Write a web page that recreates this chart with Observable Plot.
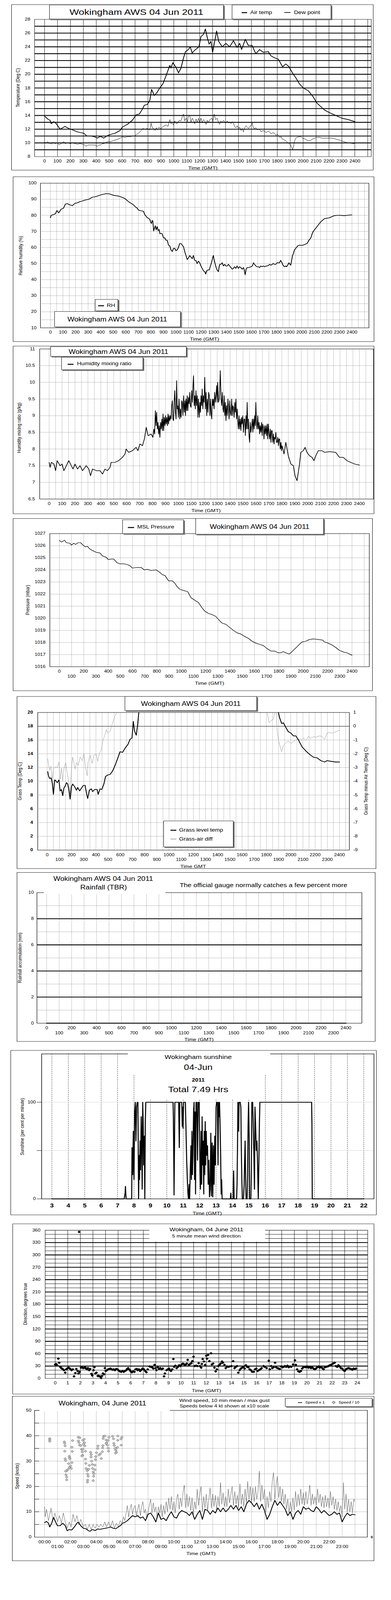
<!DOCTYPE html>
<html><head><meta charset="utf-8">
<script src="https://cdn.jsdelivr.net/npm/d3@7"></script>
<script src="https://cdn.jsdelivr.net/npm/@observablehq/plot@0.6"></script>
<style>
html,body{margin:0;padding:0;width:1000px;overflow:hidden;background:#fff;}
#root{position:relative;width:1000px;height:5000px;overflow:hidden;font-family:"Liberation Sans",Arial,Helvetica,sans-serif;color:#000;background:#fff;transform-origin:0 0;}
.t{position:absolute;white-space:nowrap;line-height:1;transform:translate(-50%,-50%);}
.tl{position:absolute;white-space:nowrap;line-height:1;transform:translate(0,-50%);}
.rot{position:absolute;white-space:nowrap;line-height:1;transform:translate(-50%,-50%) rotate(-90deg);}
.box{position:absolute;background:#fff;border:1px solid #000;box-shadow:3px 3px 0 #777;box-sizing:border-box;}
.frame{position:absolute;border:1.5px solid #000;box-sizing:border-box;}
.white{position:absolute;background:#fff;}
.blk{position:absolute;}
</style></head><body><div id="root"></div>
<script>
// ---------------- DATA ----------------
const hhmmTicks = [0,100,200,300,400,500,600,700,800,900,1000,1100,1200,1300,1400,1500,1600,1700,1800,1900,2000,2100,2200,2300,2400];
const hhmmEven = [0,200,400,600,800,1000,1200,1400,1600,1800,2000,2200,2400];
const hhmmOdd = [100,300,500,700,900,1100,1300,1500,1700,1900,2100,2300];
const tempTicks = [8,10,12,14,16,18,20,22,24,26,28];
const rhTicks = [10,20,30,40,50,60,70,80,90,100];
const mixTicks = [6.5,7,7.5,8,8.5,9,9.5,10,10.5,11];
const presTicks = [1016,1017,1018,1019,1020,1021,1022,1023,1024,1025,1026,1027];
const grassTicks = [0,2,4,6,8,10,12,14,16,18,20];
const diffTicks = [-9,-8,-7,-6,-5,-4,-3,-2,-1,0,1];
const rainTicks = [0,2,4,6,8,10];
const sunHourTicks = [3,4,5,6,7,8,9,10,11,12,13,14,15,16,17,18,19,20,21,22];
const sunTicks = [0,50,100];
const dirTicks = [0,30,60,90,120,150,180,210,240,270,300,330,360];
const dirHourTicks = [0,1,2,3,4,5,6,7,8,9,10,11,12,13,14,15,16,17,18,19,20,21,22,23,24];
const speedTicks = [0,10,20,30,40,50];
const windEven = [0,2,4,6,8,10,12,14,16,18,20,22];
const windOdd = [1,3,5,7,9,11,13,15,17,19,21,23];

const airTemp = [[0,13.9],[23,13.5],[42,13.3],[52,12.8],[71,13.1],[91,12.8],[120,12.0],[140,12.2],[158,12.4],[187,12.1],[216,11.9],[255,11.6],[280,11.5],[303,11.4],[328,11.0],[361,11.0],[385,10.9],[409,10.7],[425,10.9],[438,10.9],[457,10.7],[480,11.0],[505,11.2],[544,11.4],[583,11.8],[602,12.3],[641,12.7],[679,13.3],[698,13.8],[708,14.1],[733,14.2],[756,14.9],[772,15.5],[795,15.6],[814,16.2],[828,17.8],[849,16.9],[868,17.3],[891,18.0],[915,18.6],[940,19.8],[969,21.3],[978,20.9],[992,21.7],[1017,21.0],[1036,20.2],[1055,20.9],[1075,22.4],[1090,23.3],[1113,23.6],[1127,24.0],[1142,23.1],[1161,23.5],[1181,23.8],[1194,24.0],[1210,25.5],[1229,25.8],[1244,26.6],[1258,25.4],[1273,24.4],[1287,24.8],[1300,23.2],[1316,24.8],[1331,26.3],[1347,24.8],[1374,24.0],[1403,24.5],[1432,24.0],[1461,24.9],[1489,23.9],[1509,24.5],[1524,23.6],[1553,25.1],[1576,24.2],[1605,24.2],[1634,23.0],[1663,23.6],[1692,23.2],[1731,23.3],[1750,22.7],[1779,22.4],[1808,22.2],[1841,21.1],[1866,21.5],[1891,21.1],[1914,20.3],[1943,19.5],[1972,18.6],[2001,18.0],[2040,17.6],[2078,16.7],[2107,15.8],[2136,15.3],[2165,14.8],[2204,14.4],[2252,14.0],[2300,13.6],[2348,13.4],[2400,13.1]];

const dewPoint = [[0,10.1],[15,10.0],[25,10.2],[35,9.9],[42,10.0],[52,9.8],[65,10.1],[80,9.9],[100,10.0],[112,9.7],[120,9.8],[135,10.0],[149,10.2],[160,9.9],[178,10.0],[200,9.9],[215,10.0],[235,9.9],[255,9.8],[275,9.9],[293,9.8],[310,9.7],[322,9.5],[335,9.7],[351,9.7],[370,9.7],[390,9.7],[409,9.5],[420,9.7],[435,9.7],[448,9.9],[460,9.9],[477,10.1],[495,10.2],[515,10.2],[540,10.4],[563,10.5],[585,10.7],[602,10.9],[620,10.8],[640,10.9],[660,10.9],[680,11.0],[698,11.0],[708,11.2],[718,11.3],[732,11.5],[747,11.8],[760,12.1],[776,12.0],[795,12.1],[814,11.9],[824,12.9],[833,12.2],[843,12.1],[855,11.8],[865,12.2],[872,11.9],[885,12.3],[898,12.0],[911,12.3],[925,12.5],[940,12.6],[955,12.4],[969,13.4],[978,12.8],[988,12.9],[998,12.6],[1007,13.2],[1018,12.8],[1030,12.9],[1042,13.3],[1055,13.2],[1065,13.8],[1075,14.2],[1084,13.2],[1094,13.6],[1105,13.1],[1113,13.9],[1123,14.0],[1133,13.0],[1142,13.6],[1152,13.3],[1162,12.8],[1172,13.5],[1181,13.0],[1191,13.6],[1200,12.9],[1210,13.6],[1220,12.9],[1230,13.4],[1239,13.2],[1249,12.7],[1258,13.3],[1268,13.0],[1280,13.4],[1293,13.6],[1302,13.1],[1312,14.2],[1323,13.4],[1335,13.6],[1345,13.0],[1354,12.7],[1364,13.2],[1374,13.0],[1384,13.3],[1393,13.1],[1403,12.9],[1413,13.2],[1423,12.9],[1432,13.0],[1442,12.8],[1452,13.1],[1461,12.9],[1470,12.4],[1480,12.2],[1490,12.5],[1500,12.1],[1509,12.3],[1520,11.8],[1530,12.1],[1538,11.6],[1548,12.2],[1558,12.5],[1567,12.3],[1578,12.1],[1588,12.4],[1596,12.5],[1606,12.9],[1615,12.2],[1625,12.1],[1635,12.2],[1645,11.9],[1655,12.0],[1663,12.0],[1675,11.6],[1688,11.8],[1702,11.7],[1715,11.5],[1728,11.7],[1740,11.6],[1752,11.3],[1765,11.5],[1779,11.4],[1790,11.1],[1800,11.3],[1808,11.1],[1820,10.8],[1830,10.9],[1837,10.6],[1850,10.5],[1866,10.3],[1878,10.1],[1891,9.9],[1904,9.7],[1912,9.3],[1918,9.0],[1925,9.4],[1933,10.2],[1943,10.7],[1953,10.8],[1968,10.9],[1982,10.9],[1995,10.7],[2011,10.6],[2030,10.4],[2049,10.3],[2068,10.5],[2088,10.7],[2107,10.8],[2127,10.8],[2146,10.7],[2165,10.7],[2195,10.7],[2223,10.7],[2245,10.6],[2262,10.5],[2285,10.4],[2310,10.2],[2330,10.1],[2345,10.0],[2370,9.95],[2396,9.9]];

const relHum = [[0,78.5],[6,80],[26,80.5],[40,81],[52,83],[66,81.5],[85,83.8],[105,84.5],[119,87],[135,87.3],[155,86.5],[175,86],[195,87.5],[215,87.8],[234,88.5],[254,88.9],[274,89.5],[294,89.8],[314,90.3],[334,91.3],[354,91.5],[374,92],[394,92.5],[413,93],[428,93.2],[443,93.5],[458,93.4],[473,93.3],[488,92.8],[503,92.5],[522,92.2],[542,92],[567,91.3],[592,90.5],[607,89.5],[622,88.5],[642,87.5],[662,86.5],[677,85.2],[691,84.5],[701,83.3],[711,83],[726,82.8],[741,82.5],[751,80.5],[761,79.5],[771,78.5],[781,78.2],[791,77.5],[799,75.5],[805,75],[810,76.8],[815,76.5],[822,70.3],[828,72],[835,73.5],[842,71],[850,73],[858,70.5],[865,71.2],[872,68.5],[880,68.8],[890,68.5],[900,66],[910,66],[920,64.5],[930,64.5],[940,61.5],[950,61],[960,58.5],[970,57.5],[980,59.5],[989,59.5],[999,58],[1009,58.5],[1019,60],[1029,62.5],[1039,62.5],[1049,61.5],[1059,60.5],[1069,57.5],[1079,55],[1089,52.5],[1099,53.5],[1109,55],[1119,54],[1129,53],[1138,55],[1148,52],[1158,52],[1168,50],[1178,51.5],[1188,50.5],[1198,48.5],[1208,47],[1218,45.5],[1228,45],[1236,43.5],[1244,45.5],[1254,46],[1264,46],[1274,48.5],[1284,51],[1291,53.5],[1297,55],[1304,52],[1311,50],[1319,47.5],[1327,46],[1337,45],[1342,47.5],[1347,49.5],[1357,49.5],[1367,50.5],[1377,48.5],[1387,49.5],[1397,48.5],[1407,48.5],[1417,49.5],[1427,48.5],[1437,47.5],[1447,46.5],[1456,47],[1466,48],[1476,47],[1486,48.5],[1496,47],[1506,48],[1516,47.5],[1526,46.5],[1536,47.5],[1543,46],[1550,43],[1558,46.5],[1566,47.5],[1578,47.5],[1595,48],[1608,48.5],[1616,50.5],[1625,49.5],[1635,48.5],[1645,48],[1655,48],[1665,47.5],[1675,48.5],[1685,48],[1695,48.5],[1705,48],[1715,48.5],[1725,48.5],[1735,48.8],[1745,49.5],[1755,49],[1764,49.5],[1774,50],[1784,49.5],[1794,49.5],[1804,50.5],[1814,50.5],[1824,50.5],[1832,52],[1840,51],[1848,49.5],[1856,48.5],[1864,48],[1872,48.5],[1880,48],[1888,49],[1899,50.5],[1906,49.5],[1913,49],[1920,52],[1927,55],[1933,56],[1943,58.5],[1953,59.5],[1968,61],[1983,61.5],[1998,61.3],[2013,61.5],[2028,62],[2043,62.5],[2058,64.5],[2073,66],[2083,68.5],[2092,70],[2107,71.5],[2122,73],[2137,74.5],[2152,76],[2167,77],[2182,78],[2201,78.2],[2221,78.5],[2241,79.2],[2261,79.8],[2281,80],[2301,80],[2321,79.9],[2341,79.8],[2361,80],[2381,80.2],[2400,80.3]];

const mixRatio = [[0,7.6],[8,7.45],[17,7.6],[37,7.55],[50,7.35],[62,7.65],[85,7.5],[100,7.55],[114,7.35],[133,7.5],[152,7.65],[172,7.5],[185,7.4],[200,7.55],[220,7.4],[239,7.5],[259,7.35],[287,7.5],[307,7.4],[320,7.2],[336,7.4],[365,7.35],[394,7.35],[413,7.25],[432,7.4],[451,7.35],[471,7.45],[480,7.6],[509,7.6],[538,7.65],[567,7.75],[587,7.85],[596,8.0],[615,7.9],[644,7.95],[673,8.05],[687,7.95],[702,8.15],[722,8.1],[737,8.3],[751,8.65],[766,8.4],[789,8.45],[803,8.35],[810,8.6],[816,8.45],[822,9.15],[827,8.7],[832,9.1],[837,8.6],[842,8.8],[847,8.45],[852,8.7],[857,8.35],[862,8.8],[867,8.6],[872,8.9],[877,8.55],[881,9.05],[886,8.55],[891,8.95],[896,8.7],[900,9.0],[905,8.75],[910,8.95],[915,8.7],[920,9.05],[924,8.75],[929,9.0],[934,8.85],[939,9.0],[943,8.9],[948,9.3],[953,9.45],[958,8.9],[963,8.85],[967,9.4],[972,9.75],[977,9.1],[982,8.9],[986,10.05],[991,9.2],[995,9.3],[1000,8.95],[1005,9.5],[1011,8.9],[1016,9.2],[1021,8.95],[1026,9.45],[1030,9.4],[1035,9.0],[1040,9.6],[1046,9.1],[1051,9.45],[1055,9.0],[1059,9.5],[1064,9.15],[1068,9.6],[1073,9.15],[1078,9.55],[1083,9.35],[1088,9.7],[1093,9.3],[1098,9.25],[1103,9.75],[1108,9.4],[1113,9.9],[1117,10.2],[1122,9.3],[1127,9.6],[1131,9.2],[1136,9.75],[1141,9.3],[1146,9.6],[1151,8.95],[1156,9.5],[1162,8.95],[1167,9.4],[1171,9.1],[1175,9.6],[1180,9.3],[1184,9.8],[1189,9.2],[1194,9.6],[1199,9.4],[1204,10.15],[1209,9.2],[1214,9.7],[1219,9.0],[1224,9.5],[1229,9.1],[1234,9.7],[1239,9.6],[1244,9.0],[1249,9.5],[1253,9.1],[1258,8.9],[1263,9.5],[1267,9.3],[1271,9.5],[1276,9.2],[1281,9.7],[1286,9.4],[1291,9.6],[1296,9.9],[1300,9.4],[1304,10.0],[1310,9.4],[1316,9.5],[1320,9.8],[1324,10.35],[1330,9.5],[1335,9.3],[1340,9.7],[1345,9.2],[1349,9.1],[1354,9.6],[1359,9.0],[1364,9.4],[1368,8.85],[1373,9.3],[1378,9.0],[1383,9.5],[1387,9.3],[1392,8.9],[1397,9.45],[1402,9.1],[1407,9.0],[1412,9.5],[1417,9.0],[1421,9.3],[1426,9.25],[1431,8.95],[1436,9.4],[1441,9.1],[1445,9.5],[1450,8.9],[1455,9.2],[1459,8.85],[1464,8.6],[1469,9.0],[1474,8.6],[1479,8.9],[1484,8.55],[1488,8.95],[1493,8.75],[1498,9.0],[1503,8.5],[1508,8.9],[1513,8.9],[1518,8.4],[1523,9.0],[1527,8.6],[1532,9.4],[1537,8.6],[1541,8.9],[1546,8.4],[1551,8.2],[1556,8.8],[1561,8.5],[1567,8.7],[1572,8.9],[1576,8.5],[1581,8.9],[1586,8.6],[1590,9.0],[1595,8.7],[1599,9.4],[1604,8.8],[1609,8.6],[1614,9.0],[1619,8.6],[1624,8.8],[1628,8.45],[1633,8.7],[1638,8.5],[1643,8.8],[1648,8.4],[1652,8.75],[1657,8.65],[1662,8.3],[1667,8.7],[1672,8.45],[1677,8.7],[1682,8.4],[1687,8.75],[1691,8.3],[1696,8.75],[1701,8.45],[1706,8.3],[1711,8.6],[1716,8.2],[1720,8.55],[1725,8.55],[1730,8.2],[1735,8.45],[1740,8.15],[1744,8.35],[1749,8.3],[1754,8.5],[1759,8.2],[1764,8.2],[1769,8.35],[1774,8.1],[1778,8.3],[1783,8.3],[1788,8.0],[1793,8.2],[1797,7.95],[1802,8.1],[1817,7.85],[1831,8.2],[1850,7.8],[1870,7.55],[1889,7.5],[1902,7.2],[1918,7.05],[1937,7.55],[1947,7.9],[1966,7.95],[1980,8.05],[1995,7.9],[2014,7.8],[2034,7.75],[2049,7.65],[2063,7.8],[2082,7.95],[2111,7.95],[2130,7.9],[2169,7.92],[2217,7.9],[2246,7.75],[2275,7.75],[2304,7.65],[2333,7.6],[2362,7.55],[2400,7.52]];

const mslPressure = [[0,1026.45],[16,1026.3],[43,1026.45],[57,1026.25],[88,1026.2],[98,1026.05],[119,1026.2],[133,1026.1],[153,1026.25],[174,1026.25],[194,1026.05],[215,1025.9],[231,1025.95],[247,1025.75],[272,1025.6],[303,1025.45],[333,1025.4],[354,1025.15],[384,1025.05],[401,1024.85],[425,1024.9],[446,1024.9],[472,1024.6],[497,1024.5],[528,1024.5],[554,1024.45],[579,1024.35],[599,1024.15],[630,1024.2],[671,1024.2],[697,1024.0],[722,1024.05],[753,1023.95],[794,1024.0],[824,1023.8],[845,1023.6],[865,1023.55],[896,1023.1],[926,1023.1],[947,1022.9],[967,1022.6],[988,1022.4],[1018,1022.3],[1053,1022.2],[1080,1021.7],[1110,1021.5],[1141,1021.3],[1168,1020.9],[1192,1020.6],[1223,1020.4],[1254,1020.3],[1284,1020.15],[1305,1019.9],[1335,1019.6],[1366,1019.5],[1397,1019.25],[1427,1019.0],[1458,1018.8],[1489,1018.7],[1519,1018.5],[1550,1018.35],[1581,1018.1],[1611,1017.95],[1642,1017.85],[1673,1017.75],[1703,1017.5],[1734,1017.3],[1765,1017.3],[1796,1017.15],[1816,1017.15],[1837,1017.25],[1857,1017.15],[1884,1017.05],[1898,1017.15],[1929,1017.45],[1959,1017.75],[1990,1018.05],[2020,1018.1],[2051,1018.25],[2082,1018.3],[2122,1018.25],[2159,1018.2],[2174,1018.05],[2204,1017.95],[2235,1017.8],[2266,1017.6],[2297,1017.35],[2333,1017.2],[2358,1017.15],[2400,1016.95]];

const grassTemp = [[4,11.4],[10,10.8],[20,10.4],[31,10.5],[41,9.8],[51,8.1],[61,10.2],[70,10.1],[82,9.8],[96,10.2],[106,8.6],[117,8.8],[127,7.9],[137,9.0],[147,9.3],[158,9.8],[168,9.6],[178,8.7],[188,7.4],[199,9.2],[209,9.6],[225,9.2],[240,8.7],[250,9.1],[266,8.6],[281,9.0],[297,9.4],[311,9.4],[322,8.3],[332,7.5],[346,8.7],[362,8.9],[373,8.5],[389,8.8],[410,8.8],[418,8.1],[434,8.9],[448,8.8],[465,9.6],[479,10.7],[496,10.9],[516,11.0],[537,11.5],[557,12.3],[578,13.3],[598,14.3],[618,14.2],[639,14.8],[664,15.4],[680,16.1],[696,16.3],[707,18.7],[717,17.3],[731,16.7],[741,18.0],[752,20.0],[790,22.5],[1860,22.5],[1898,20.0],[1909,19.2],[1925,18.4],[1939,18.5],[1960,17.8],[1980,17.2],[2001,17.0],[2022,16.6],[2042,16.6],[2063,16.0],[2093,15.0],[2124,14.4],[2155,13.9],[2186,13.5],[2216,13.4],[2247,13.0],[2278,12.8],[2298,13.0],[2329,12.9],[2370,12.8],[2400,12.8]];

const grassAirDiff = [[4,-2.35],[10,-2.7],[20,-3.2],[31,-2.9],[41,-4.0],[51,-3.1],[66,-2.95],[82,-3.0],[96,-2.6],[106,-3.85],[117,-3.05],[127,-4.0],[137,-3.05],[152,-2.65],[164,-3.4],[178,-4.1],[188,-5.0],[199,-3.0],[209,-2.25],[229,-3.1],[240,-2.65],[254,-2.85],[270,-2.25],[287,-2.5],[301,-2.0],[315,-3.0],[328,-3.6],[336,-2.6],[352,-2.1],[369,-2.7],[383,-2.1],[403,-2.05],[414,-2.55],[428,-2.0],[444,-1.7],[459,-1.0],[475,-0.6],[485,-0.25],[496,-0.5],[516,-0.35],[537,0.25],[557,0.75],[573,1.0],[600,1.6],[1780,1.6],[1806,1.0],[1823,0.25],[1837,0.4],[1857,0.5],[1868,1.0],[1873,1.3],[1880,1.0],[1888,-0.25],[1898,-1.0],[1909,-1.35],[1925,-1.85],[1939,-1.4],[1960,-1.2],[1980,-1.05],[2001,-1.25],[2022,-1.1],[2042,-1.0],[2063,-0.95],[2083,-1.0],[2104,-0.85],[2124,-1.05],[2145,-0.75],[2165,-0.9],[2186,-0.75],[2206,-0.8],[2237,-0.7],[2257,-0.75],[2278,-0.95],[2298,-0.5],[2319,-0.45],[2339,-0.5],[2370,-0.4],[2400,-0.3]];

const rainTime = [0, 2400];
const rainAccum = [0, 0];

const sunshine = [[3,0],[7.40,0],[7.46,6],[7.48,13],[7.50,6],[7.52,0],[7.86,0],[7.88,53],[7.92,25],[7.96,70],[8.0,20],[8.04,90],[8.08,100],[8.12,60],[8.16,95],[8.2,100],[8.24,100],[8.28,0],[8.31,45],[8.34,20],[8.37,60],[8.40,30],[8.44,85],[8.47,55],[8.50,10],[8.53,100],[8.56,80],[8.59,35],[8.63,65],[8.66,0],[8.69,80],[8.72,100],[10.38,100],[10.40,83],[10.43,30],[10.44,4],[10.47,60],[10.49,100],[10.72,100],[10.74,78],[10.76,53],[10.79,100],[10.91,100],[10.94,75],[10.97,95],[10.99,73],[11.02,100],[11.13,100],[11.17,70],[11.21,40],[11.25,20],[11.29,5],[11.32,0],[11.36,15],[11.39,0],[11.43,30],[11.47,55],[11.50,20],[11.53,70],[11.56,25],[11.59,45],[11.63,90],[11.66,100],[11.69,20],[11.72,90],[11.75,5],[11.78,100],[11.83,100],[11.87,40],[11.91,100],[11.97,100],[11.99,75],[12.02,30],[12.05,10],[12.09,70],[12.12,15],[12.15,85],[12.18,35],[12.21,60],[12.25,5],[12.28,70],[12.31,25],[12.34,80],[12.37,35],[12.40,70],[12.44,45],[12.48,55],[12.52,15],[12.56,40],[12.60,2],[12.64,10],[12.68,68],[12.72,3],[12.76,58],[12.80,2],[12.84,55],[12.88,15],[12.92,65],[12.96,35],[13.0,95],[13.04,100],[13.08,100],[13.12,35],[13.15,100],[13.18,85],[13.21,100],[13.24,80],[13.28,45],[13.31,5],[13.34,20],[13.37,0],[13.87,0],[13.90,6],[13.92,0],[14.04,0],[14.07,29],[14.10,0],[14.25,0],[14.28,15],[14.31,62],[14.33,100],[14.36,85],[14.38,70],[14.40,100],[14.47,100],[14.51,95],[14.54,50],[14.57,20],[14.60,0],[14.67,0],[14.71,15],[14.74,40],[14.77,60],[14.80,20],[14.83,0],[14.89,0],[14.92,25],[14.95,75],[14.98,100],[15.02,60],[15.04,0],[15.12,0],[15.15,30],[15.18,100],[15.23,100],[15.26,80],[15.30,50],[15.34,10],[15.37,95],[15.41,75],[15.45,50],[15.49,60],[15.53,35],[15.57,0],[15.61,40],[15.64,78],[15.67,100],[18.82,100],[18.84,78],[18.86,0],[22,0]];

const windDir = [[0.0,34],[0.08,35],[0.15,32],[0.25,48],[0.32,38],[0.4,28],[0.48,25],[0.55,24],[0.62,22],[0.7,20],[0.8,14],[0.88,22],[0.95,24],[1.05,26],[1.12,25],[1.2,23],[1.3,20],[1.4,22],[1.5,5],[1.6,13],[1.68,23],[1.78,18],[1.85,12],[1.9,356],[1.95,16],[2.05,26],[2.12,27],[2.22,25],[2.3,26],[2.38,27],[2.45,24],[2.52,22],[2.6,25],[2.7,20],[2.78,23],[2.88,11],[2.95,7],[3.05,20],[3.12,27],[3.2,12],[3.28,14],[3.38,6],[3.45,6],[3.55,5],[3.65,1],[3.72,6],[3.8,12],[3.88,10],[3.95,25],[4.02,18],[4.12,20],[4.2,22],[4.3,23],[4.4,24],[4.48,22],[4.58,21],[4.65,22],[4.75,20],[4.85,23],[4.95,22],[5.05,19],[5.15,17],[5.25,16],[5.35,18],[5.45,16],[5.55,18],[5.65,20],[5.72,23],[5.8,25],[5.9,21],[6.0,17],[6.1,15],[6.2,17],[6.3,16],[6.38,22],[6.48,23],[6.55,20],[6.65,22],[6.75,18],[6.85,21],[6.95,24],[7.05,22],[7.15,18],[7.25,15],[7.35,22],[7.5,29],[7.6,28],[7.7,27],[7.8,24],[7.9,33],[7.97,25],[8.05,20],[8.15,27],[8.25,23],[8.35,25],[8.45,22],[8.55,24],[8.65,5],[8.72,12],[8.85,20],[8.95,22],[9.05,24],[9.12,20],[9.2,18],[9.3,22],[9.39,47],[9.45,28],[9.55,31],[9.65,25],[9.75,28],[9.85,32],[9.95,30],[10.05,34],[10.15,36],[10.25,34],[10.35,33],[10.45,36],[10.53,45],[10.62,33],[10.72,35],[10.82,37],[10.9,42],[10.99,53],[11.08,30],[11.2,31],[11.3,30],[11.4,37],[11.5,30],[11.6,26],[11.65,35],[11.72,47],[11.82,41],[11.92,33],[12.0,55],[12.07,48],[12.15,57],[12.25,42],[12.38,61],[12.45,34],[12.55,36],[12.65,26],[12.75,17],[12.85,22],[12.95,30],[13.05,33],[13.15,36],[13.25,41],[13.32,38],[13.45,33],[13.55,25],[13.65,29],[13.75,28],[13.85,29],[14.0,30],[14.14,42],[14.25,25],[14.35,28],[14.45,30],[14.55,14],[14.65,20],[14.75,24],[14.85,26],[14.95,28],[15.05,24],[15.15,32],[15.25,28],[15.35,27],[15.45,22],[15.55,20],[15.65,16],[15.78,16],[15.88,22],[15.98,24],[16.08,18],[16.18,20],[16.3,22],[16.4,25],[16.55,30],[16.65,28],[16.8,25],[16.97,43],[17.05,22],[17.15,30],[17.25,25],[17.35,27],[17.47,38],[17.55,27],[17.65,25],[17.75,24],[17.85,23],[17.95,29],[18.05,27],[18.15,28],[18.25,30],[18.35,28],[18.45,31],[18.55,27],[18.65,29],[18.75,28],[18.9,34],[19.05,44],[19.12,33],[19.22,22],[19.32,17],[19.42,16],[19.52,18],[19.62,24],[19.72,27],[19.82,28],[19.92,27],[20.02,29],[20.12,26],[20.22,28],[20.32,25],[20.42,27],[20.52,24],[20.62,22],[20.72,24],[20.82,27],[20.92,29],[21.02,26],[21.12,28],[21.22,25],[21.32,22],[21.42,27],[21.52,28],[21.62,29],[21.72,30],[21.82,32],[21.92,33],[22.02,35],[22.12,37],[22.2,38],[22.3,30],[22.4,28],[22.5,32],[22.6,29],[22.7,25],[22.8,24],[22.9,20],[23.0,18],[23.1,22],[23.2,24],[23.3,25],[23.4,24],[23.5,23],[23.6,21],[23.7,24],[23.8,23],[23.9,24]];

const speedMean = [[0.0,5.7],[0.15,6.2],[0.3,5.5],[0.4,4.0],[0.55,5.5],[0.7,7.8],[0.85,6.0],[1.0,4.5],[1.2,4.5],[1.4,5.5],[1.6,4.5],[1.75,2.5],[1.9,3.0],[2.1,2.8],[2.3,4.0],[2.5,5.5],[2.6,5.9],[2.8,4.5],[3.0,3.5],[3.2,3.3],[3.4,2.5],[3.5,2.3],[3.7,3.0],[3.9,2.6],[4.1,3.2],[4.3,3.1],[4.5,3.3],[4.7,3.5],[4.9,3.7],[5.1,4.0],[5.3,3.5],[5.5,3.3],[5.7,4.0],[5.9,4.7],[6.0,5.4],[6.2,5.8],[6.4,6.5],[6.6,7.5],[6.8,8.5],[7.0,8.0],[7.2,8.5],[7.4,7.5],[7.6,8.0],[7.8,6.5],[8.0,9.0],[8.2,9.5],[8.4,8.0],[8.6,6.0],[8.8,9.5],[9.0,7.0],[9.2,7.5],[9.4,6.5],[9.6,8.5],[9.8,10.0],[10.0,8.0],[10.2,7.5],[10.4,9.5],[10.6,10.5],[10.8,10.0],[11.0,9.5],[11.2,8.5],[11.4,10.0],[11.6,7.0],[11.8,9.0],[12.0,10.5],[12.2,7.0],[12.4,11.0],[12.6,10.5],[12.8,9.0],[13.0,10.5],[13.2,9.5],[13.4,11.5],[13.6,10.0],[13.8,11.5],[14.0,10.0],[14.2,11.0],[14.4,12.5],[14.6,11.0],[14.8,12.5],[15.0,10.5],[15.2,12.0],[15.4,10.0],[15.6,13.0],[15.8,14.5],[16.0,13.5],[16.2,12.0],[16.4,13.5],[16.6,11.0],[16.8,13.0],[17.0,10.5],[17.2,7.0],[17.4,9.0],[17.6,12.0],[17.8,14.5],[18.0,12.5],[18.2,14.0],[18.4,12.5],[18.6,11.0],[18.8,8.5],[19.0,10.0],[19.2,7.0],[19.4,9.5],[19.6,10.5],[19.8,9.0],[20.0,12.0],[20.2,11.0],[20.4,11.5],[20.6,10.5],[20.8,10.0],[21.0,12.0],[21.2,11.0],[21.4,9.5],[21.6,10.5],[21.8,9.5],[22.0,8.5],[22.2,9.0],[22.4,10.0],[22.6,9.0],[22.8,9.5],[23.0,6.0],[23.2,8.0],[23.4,9.5],[23.6,8.5],[23.8,9.0],[24.0,8.8]];

const speedGust = [[0.0,12],[0.05,8],[0.15,11],[0.3,6.5],[0.45,10],[0.5,11.5],[0.65,6.5],[0.8,9.5],[1.0,6],[1.15,8.5],[1.3,5.5],[1.45,9.5],[1.6,6],[1.75,3.5],[1.9,6],[2.05,4],[2.2,9],[2.35,6],[2.5,8.5],[2.65,5],[2.8,7],[3.0,4],[3.15,5],[3.3,3],[3.45,5],[3.6,3],[3.75,5],[3.9,3.5],[4.05,5],[4.2,4],[4.35,5],[4.5,4],[4.65,6],[4.8,4],[4.95,6],[5.1,4],[5.25,6.5],[5.4,3.5],[5.55,5.5],[5.7,4],[5.85,6.5],[6.0,5.5],[6.1,8],[6.2,6.5],[6.3,9.5],[6.4,12.5],[6.5,8],[6.6,11],[6.7,13],[6.8,9],[6.9,11.5],[7.0,12.5],[7.1,8.5],[7.2,11],[7.3,13],[7.4,8.5],[7.5,12],[7.6,14],[7.7,9.5],[7.8,11],[7.9,7.5],[8.0,10],[8.1,12.5],[8.2,15],[8.3,9.5],[8.4,13.5],[8.5,10],[8.6,12],[8.7,7.5],[8.8,12],[8.9,9.5],[9.0,13],[9.1,8],[9.2,12.5],[9.3,9],[9.4,14],[9.5,10],[9.6,15.5],[9.7,11],[9.8,16],[9.9,10.5],[10.0,14],[10.1,9.5],[10.2,15],[10.3,17],[10.4,11],[10.5,15.5],[10.6,12],[10.7,17.5],[10.8,20.5],[10.9,11.5],[11.0,17],[11.1,12],[11.2,16],[11.3,10.5],[11.4,15.5],[11.5,9],[11.6,14],[11.7,11],[11.8,19],[11.9,12.5],[12.0,17],[12.1,20],[12.2,10],[12.3,16],[12.4,11.5],[12.5,17],[12.6,10.5],[12.7,15],[12.8,19.5],[12.9,11.5],[13.0,17],[13.1,12],[13.2,16.5],[13.3,10.5],[13.4,16],[13.5,12],[13.6,21.5],[13.7,13],[13.8,17.5],[13.9,12],[14.0,16],[14.1,12],[14.2,19],[14.3,13.5],[14.4,17],[14.5,20],[14.6,12.5],[14.7,18],[14.8,13],[14.9,16.5],[15.0,11.5],[15.1,21],[15.2,13],[15.3,17],[15.4,12],[15.5,19],[15.6,13.5],[15.7,22],[15.8,15],[15.9,20],[16.0,13.5],[16.1,19.5],[16.2,14],[16.3,20],[16.4,15],[16.5,18],[16.6,26],[16.7,14],[16.8,20.5],[16.9,15],[17.0,19],[17.1,10],[17.2,16],[17.3,11.5],[17.4,18],[17.5,14],[17.6,22],[17.7,25.5],[17.8,15],[17.9,21],[18.0,24],[18.1,15.5],[18.2,20],[18.3,14],[18.4,19],[18.5,13],[18.6,17],[18.7,11],[18.8,15],[18.9,9.5],[19.0,14],[19.1,10],[19.2,15.5],[19.3,10.5],[19.4,18],[19.5,12],[19.6,17],[19.7,12.5],[19.8,19],[19.9,13],[20.0,17.5],[20.1,12.5],[20.2,18],[20.3,13],[20.4,16],[20.5,20.5],[20.6,12.5],[20.7,17],[20.8,13],[20.9,16],[21.0,12.5],[21.1,19],[21.2,13.5],[21.3,17],[21.4,12],[21.5,16],[21.6,11.5],[21.7,16.5],[21.8,12],[21.9,15.5],[22.0,11.5],[22.1,18],[22.2,12.5],[22.3,16],[22.4,11],[22.5,15],[22.6,10.5],[22.7,14],[22.8,10],[22.9,12.5],[23.0,8],[23.1,21.5],[23.2,11],[23.3,17],[23.4,10],[23.5,15],[23.6,10],[23.7,14],[23.8,9.5],[23.9,15],[24.0,14]];

const lowSpeedX10 = [[0.40,38.9],[0.40,38.4],[0.40,37.8],[1.53,37.6],[1.56,37.0],[1.59,36.0],[1.56,33.9],[1.59,30.9],[1.63,30.2],[1.91,31.9],[1.94,31.3],[1.96,30.9],[2.11,29.4],[1.86,29.0],[2.01,28.1],[1.91,27.5],[1.81,26.7],[1.71,26.2],[1.63,26.0],[1.66,24.6],[1.71,23.7],[1.71,22.6],[2.06,27.1],[2.11,35.5],[2.14,33.8],[2.16,38.1],[2.61,39.4],[2.73,39.2],[2.61,38.0],[2.66,37.3],[2.71,36.3],[2.81,36.1],[2.96,38.2],[3.06,38.6],[3.09,37.3],[3.01,36.7],[3.11,36.0],[2.86,34.6],[2.96,34.7],[2.91,33.6],[2.93,32.3],[2.89,32.0],[3.16,33.9],[3.16,30.8],[3.19,29.1],[3.21,27.1],[3.29,26.2],[3.33,24.9],[3.37,24.0],[3.33,22.5],[3.31,21.7],[3.41,26.8],[3.46,28.3],[3.56,33.5],[3.61,32.6],[3.59,31.6],[3.63,30.0],[3.69,28.7],[3.71,27.1],[3.76,25.7],[3.79,24.0],[3.76,22.3],[3.81,25.0],[3.89,28.4],[3.89,26.6],[3.94,30.6],[3.96,31.8],[4.01,33.3],[4.11,35.0],[4.13,36.0],[4.21,32.4],[4.31,32.9],[4.38,31.0],[4.46,33.7],[4.51,36.1],[4.49,35.2],[4.56,39.8],[4.66,39.9],[4.53,38.9],[4.76,38.3],[4.91,38.2],[4.81,37.3],[4.86,36.3],[4.76,36.9],[4.91,35.1],[4.94,33.9],[4.98,39.4],[5.26,39.8],[5.33,38.8],[5.36,37.0],[5.39,36.1],[5.46,35.0],[5.51,34.3],[5.56,33.5],[5.63,35.4],[5.66,39.9],[5.66,38.2],[5.91,38.7],[5.98,39.4],[5.93,36.3],[5.49,33.1]];

// ---------------- HELPERS ----------------
const FONT = '"Liberation Sans", Arial, Helvetica, sans-serif';
const root = document.getElementById("root");
// The photographed viewport may be shorter than 5000px: squeeze the 1000x5000 layout to fit it.
const fitScale = Math.min(1, (window.innerHeight || 5000) / 5000);
root.style.transform = `scale(1, ${fitScale})`;
document.body.style.height = (5000 * fitScale) + "px";
document.documentElement.style.height = (5000 * fitScale) + "px";

function div(cls, x0, y0, x1, y1, css = {}) {
  const d = document.createElement("div");
  d.className = cls;
  Object.assign(d.style, {left: x0 + "px", top: y0 + "px", width: (x1 - x0) + "px", height: (y1 - y0) + "px"}, css);
  root.appendChild(d);
  return d;
}
function txt(x, y, s, size, o = {}) {
  const d = document.createElement("div");
  d.className = o.cls || "t";
  d.textContent = s;
  d.style.left = x + "px"; d.style.top = y + "px"; d.style.fontSize = size + "px";
  if (o.weight) d.style.fontWeight = o.weight;
  if (o.color) d.style.color = o.color;
  root.appendChild(d);
  return d;
}
function bar(x0, x1, y, h, color) { return div("blk", x0, y - h / 2, x1, y + h / 2, {background: color}); }
const X = d => d[0], Y = d => d[1];
const fmt = d => String(d);
function yAx(ticks, pad, o = {}) { return Plot.axisY(ticks, {tickSize: 0, tickPadding: pad, tickFormat: fmt, label: null, fontSize: 12.5, ...o}); }
function xAx(ticks, pad, o = {}) { return Plot.axisX(ticks, {tickSize: 0, tickPadding: pad, tickFormat: fmt, label: null, fontSize: 12.5, ...o}); }
const dotted = {stroke: "#000", strokeWidth: 1, strokeDasharray: "1,2", strokeOpacity: 0.85};
function chart(F, P, opts) {
  const svg = Plot.plot({
    width: F[2] - F[0], height: F[3] - F[1],
    marginLeft: P[0] - F[0], marginTop: P[1] - F[1], marginRight: F[2] - P[2], marginBottom: F[3] - P[3],
    style: {background: "transparent", fontFamily: FONT, fontSize: "12.5px", color: "#000", overflow: "visible"},
    ...opts
  });
  svg.style.position = "absolute"; svg.style.left = F[0] + "px"; svg.style.top = F[1] + "px";
  root.appendChild(svg);
  return svg;
}

// ---------------- PANEL 1: temperature ----------------
div("frame", 29, 14, 955, 532);
chart([29, 14, 955, 532], [88, 60, 949, 489], {
  x: {domain: [-77, 2527]}, y: {domain: [8, 28]},
  marks: [
    Plot.ruleX(d3.range(0, 2501, 100), {stroke: "#000", strokeWidth: 1}),
    Plot.ruleY(d3.range(9, 28, 1), {stroke: "#000", strokeWidth: 2.6}),
    Plot.frame({stroke: "#000", strokeWidth: 1}),
    Plot.line(dewPoint, {x: X, y: Y, stroke: "#000", strokeWidth: 1}),
    Plot.line(airTemp, {x: X, y: Y, stroke: "#000", strokeWidth: 2}),
    yAx(tempTicks, 11),
    xAx(hhmmTicks, 10)
  ]
});
div("box", 126, 15, 572, 60);
txt(349, 38, "Wokingham AWS 04 Jun 2011", 25.5);
div("box", 593, 15, 847, 60);
bar(618, 632, 39, 3, "#000"); txt(640, 38, "Air temp", 15, {cls: "tl"});
bar(727, 743, 39, 1.2, "#000"); txt(752, 38, "Dew point", 15, {cls: "tl"});
txt(519, 525, "Time (GMT)", 14);
txt(45, 274, "Temperature (Deg C)", 13, {cls: "rot"});

// ---------------- PANEL 2: relative humidity ----------------
div("frame", 33, 552, 957, 1068);
chart([33, 552, 957, 1068], [103, 572, 943, 1024], {
  x: {domain: [-79, 2535]}, y: {domain: [10, 100]},
  marks: [
    Plot.ruleX(d3.range(0, 2501, 50), dotted),
    Plot.ruleY(d3.range(15, 100, 5), dotted),
    Plot.frame({stroke: "#000", strokeWidth: 1.2}),
    Plot.line(relHum, {x: X, y: Y, stroke: "#000", strokeWidth: 2}),
    yAx(rhTicks, 10),
    xAx(hhmmTicks, 9.5)
  ]
});
div("box", 243, 935, 302, 972);
bar(251, 266, 955, 3, "#000"); txt(273, 954, "RH", 15, {cls: "tl"});
div("box", 139, 973, 462, 1022);
txt(300, 998, "Wokingham AWS 04 Jun 2011", 19);
txt(523, 1060, "Time (GMT)", 14);
txt(52, 799, "Relative humidity (%)", 13, {cls: "rot"});

// ---------------- PANEL 3: mixing ratio ----------------
div("frame", 33, 1081, 957, 1606);
chart([33, 1081, 957, 1606], [101, 1090, 955, 1559], {
  x: {domain: [-73, 2510]}, y: {domain: [6.5, 11]},
  marks: [
    Plot.ruleX(d3.range(0, 2451, 50), dotted),
    Plot.ruleY(d3.range(7, 11, 0.5), dotted),
    Plot.frame({stroke: "#000", strokeWidth: 1.2}),
    Plot.line(mixRatio, {x: X, y: Y, stroke: "#000", strokeWidth: 1.8}),
    yAx(mixTicks, 12),
    xAx(hhmmTicks, 10)
  ]
});
div("box", 129, 1083, 477, 1114);
txt(303, 1099, "Wokingham AWS 04 Jun 2011", 19);
div("box", 157, 1116, 366, 1156);
bar(173, 188, 1138, 3, "#000"); txt(197, 1136, "Humidity mixing ratio", 15, {cls: "tl"});
txt(527, 1595, "Time (GMT)", 14);
txt(48, 1337, "Humidity mixing ratio (g/kg)", 13, {cls: "rot"});

// ---------------- PANEL 4: pressure ----------------
div("frame", 33, 1620, 953, 2159);
chart([33, 1620, 953, 2159], [127, 1667, 944, 2083], {
  x: {domain: [-78, 2542]}, y: {domain: [1016, 1027]},
  marks: [
    Plot.ruleX(d3.range(0, 2501, 100), dotted),
    Plot.ruleY(d3.range(1017, 1027, 1), dotted),
    Plot.frame({stroke: "#000", strokeWidth: 1.2}),
    Plot.line(mslPressure, {x: X, y: Y, stroke: "#000", strokeWidth: 1.5}),
    yAx(presTicks, 11),
    xAx(hhmmEven, 10),
    xAx(hhmmOdd, 25)
  ]
});
div("box", 313, 1624, 470, 1668);
bar(327, 343, 1648, 3, "#000"); txt(351, 1646, "MSL Pressure", 15, {cls: "tl"});
div("box", 500, 1620, 828, 1670);
txt(664, 1646, "Wokingham AWS 04 Jun 2011", 19);
txt(536, 2135, "Time (GMT)", 14);
txt(70, 1875, "Pressure (mbar)", 13, {cls: "rot"});

// ---------------- PANEL 5: grass temperature ----------------
div("frame", 43, 2176, 962, 2715);
const diffToLeft = v => (v + 9) * 2;
chart([43, 2176, 962, 2715], [96, 2226, 893, 2656], {
  x: {domain: [-78, 2481]}, y: {domain: [0, 20]},
  marks: [
    Plot.ruleX(d3.range(0, 2451, 50), dotted),
    Plot.ruleY([2, 4, 6, 8, 10, 12, 14, 16], dotted),
    Plot.ruleY([diffToLeft(0)], {stroke: "#000", strokeWidth: 1.3}),
    Plot.frame({stroke: "#000", strokeWidth: 1.2}),
    Plot.line(grassAirDiff, {x: X, y: d => diffToLeft(d[1]), stroke: "#999", strokeWidth: 1, clip: true}),
    Plot.line(grassTemp, {x: X, y: Y, stroke: "#000", strokeWidth: 2.2, clip: true}),
    yAx(grassTicks, 12, {fontWeight: "bold"}),
    Plot.axisY(diffTicks.map(diffToLeft), {anchor: "right", tickSize: 0, tickPadding: 10, tickFormat: d => String(d / 2 - 9), label: null, fontSize: 12.5}),
    xAx(hhmmEven, 10),
    xAx(hhmmOdd, 25)
  ]
});
div("box", 319, 2176, 657, 2221);
txt(488, 2199, "Wokingham AWS 04 Jun 2011", 19);
div("box", 418, 2565, 597, 2647);
bar(436, 451, 2594, 3, "#000"); txt(458, 2593, "Grass level temp", 15, {cls: "tl"});
bar(436, 451, 2622, 1.2, "#999"); txt(458, 2621, "Grass-air diff", 15, {cls: "tl"});
txt(494, 2708, "Time GMT", 14);
txt(50, 2441, "Grass Temp (Deg C)", 13, {cls: "rot"});
txt(935, 2441, "Grass Temp minus Air Temp (Deg C)", 13, {cls: "rot"});

// ---------------- PANEL 6: rainfall ----------------
div("frame", 43, 2726, 960, 3255);
chart([43, 2726, 960, 3255], [94, 2789, 925, 3197], {
  x: {domain: [-78, 2528]}, y: {domain: [0, 10]},
  marks: [
    Plot.ruleX(d3.range(0, 2401, 100), dotted),
    Plot.ruleY([1, 3, 5, 7, 9], dotted),
    Plot.ruleY([2, 4, 6, 8], {stroke: "#000", strokeWidth: 2.6}),
    Plot.frame({stroke: "#000", strokeWidth: 1.2}),
    Plot.line(rainTime.map((t, i) => [t, rainAccum[i]]), {x: X, y: Y, stroke: "#000", strokeWidth: 3}),
    yAx(rainTicks, 8),
    xAx(hhmmEven, 10),
    xAx(hhmmOdd, 26)
  ]
});
div("white", 112, 2782, 423, 2793);
txt(264, 2746, "Wokingham AWS 04 Jun 2011", 19);
txt(265, 2773, "Rainfall (TBR)", 19);
txt(674, 2767, "The official gauge normally catches a few percent more", 17.5);
txt(509, 3248, "Time (GMT)", 14);
txt(50, 2993, "Rainfall accumulation (mm)", 13, {cls: "rot"});

// ---------------- PANEL 7: sunshine ----------------
div("frame", 27, 3282, 963, 3797);
chart([27, 3282, 963, 3797], [106, 3293, 956, 3746], {
  x: {domain: [2.375, 22.62]}, y: {domain: [0, 150]},
  marks: [
    Plot.ruleX(sunHourTicks, {stroke: "#000", strokeWidth: 1, strokeDasharray: "3,3"}),
    Plot.ruleY([50, 100], {stroke: "#aaa", strokeWidth: 1, strokeDasharray: "1,1"}),
    Plot.frame({stroke: "#000", strokeWidth: 1.5}),
    Plot.line(sunshine, {x: X, y: Y, stroke: "#000", strokeWidth: 2.6}),
    Plot.axisY(sunTicks, {tickSize: 12, tickPadding: 3, tickFormat: d => d === 50 ? "" : String(d), label: null, fontSize: 12.5}),
    xAx(sunHourTicks, 15, {fontSize: 17, fontWeight: "bold"})
  ]
});
div("white", 327, 3287, 691, 3357);
div("white", 348, 3357, 670, 3434);
txt(507, 3303, "Wokingham sunshine", 18);
txt(507, 3335, "04-Jun", 24);
txt(507, 3375, "2011", 15, {weight: "bold"});
txt(507, 3404, "Total 7.49 Hrs", 25);
txt(530, 3791, "Time (GMT)", 14);
txt(56, 3521, "Sunshine (per cent per minute)", 13, {cls: "rot"});

// ---------------- PANEL 8: wind direction ----------------
div("frame", 32, 3824, 957, 4357);
chart([32, 3824, 957, 4357], [115, 3844, 940, 4307], {
  x: {domain: [-0.795, 24.83]}, y: {domain: [0, 360]},
  marks: [
    Plot.ruleX(dirHourTicks, {stroke: "#000", strokeWidth: 1}),
    Plot.ruleY(d3.range(10, 361, 10).filter(v => v % 30 !== 0 || v === 360), {stroke: "#000", strokeWidth: 1}),
    Plot.ruleY(d3.range(30, 331, 30), {stroke: "#000", strokeWidth: 2.6}),
    Plot.frame({stroke: "#000", strokeWidth: 1}),
    Plot.dot(windDir, {x: X, y: Y, symbol: "diamond2", r: 3.4, fill: "#000", stroke: "#000", strokeWidth: 0.5}),
    yAx(dirTicks, 12),
    xAx(dirHourTicks, 10)
  ]
});
div("white", 382, 3836, 678, 3880);
txt(528, 3843, "Wokingham,  04 June 2011", 16);
txt(528, 3863, "5 minute mean wind direction", 13.5);
txt(528, 4345, "Time (GMT)", 14);
txt(64, 4075, "Direction, degrees true", 13, {cls: "rot"});

// ---------------- PANEL 9: wind speed ----------------
div("frame", 31, 4363, 957, 4878);
chart([31, 4363, 957, 4878], [88, 4407, 939, 4803], {
  x: {domain: [-0.77, 24.95]}, y: {domain: [0, 50]},
  marks: [
    Plot.ruleX(dirHourTicks, dotted),
    Plot.ruleY(d3.range(5, 50, 5), dotted),
    Plot.ruleY(d3.range(5, 51, 5), {x1: -0.77, x2: -0.41, stroke: "#000", strokeWidth: 1}),
    Plot.frame({stroke: "#000", strokeWidth: 1.2}),
    Plot.line(speedGust, {x: X, y: Y, stroke: "#555", strokeWidth: 1}),
    Plot.line(speedMean, {x: X, y: Y, stroke: "#000", strokeWidth: 2.2}),
    Plot.dot(lowSpeedX10, {x: X, y: Y, symbol: "diamond2", r: 3.3, fill: "#c8c8c8", stroke: "#444", strokeWidth: 0.8}),
    yAx(speedTicks, 8),
    xAx(windEven, 10, {tickFormat: h => String(h).padStart(2, "0") + ":00"}),
    xAx(windOdd, 25, {tickFormat: h => String(h).padStart(2, "0") + ":00"})
  ]
});
div("white", 100.5, 4403, 434, 4410);
txt(262, 4386, "Wokingham,  04 June 2011", 19);
txt(574, 4376, "Wind speed, 10 min mean / max gust", 14);
txt(574, 4394, "Speeds below 4 kt shown at x10 scale", 13.5);
div("box", 729, 4369, 952, 4396);
bar(762, 773, 4383, 2.5, "#000"); txt(781, 4382, "Speed x 1", 11, {cls: "tl"});
div("blk", 850, 4379, 857, 4386, {background: "#c8c8c8", border: "1px solid #444", transform: "rotate(45deg)", boxSizing: "border-box"});
txt(866, 4382, "Speed / 10", 11, {cls: "tl"});
txt(951, 4804, "0", 10, {weight: "bold"});
txt(514, 4855, "Time (GMT)", 14);
txt(43, 4613, "Speed (knots)", 13, {cls: "rot"});
</script></body></html>
